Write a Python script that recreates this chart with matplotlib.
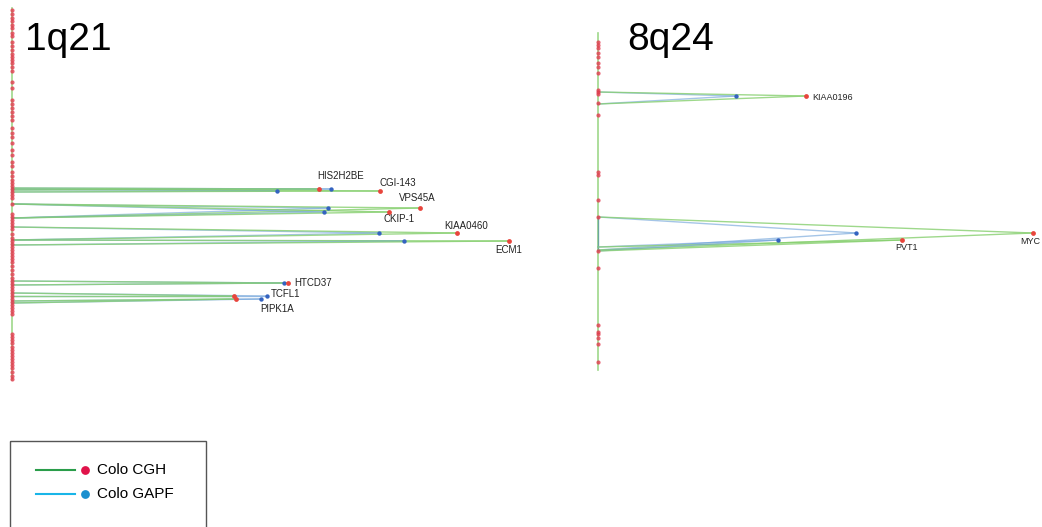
import matplotlib.pyplot as plt
from matplotlib.patches import Rectangle

plt.rcParams['font.family'] = ['Liberation Sans', 'DejaVu Sans']

# panel names and where their chromosome axis sits (pixel-like units)
panels = ["1q21", "8q24"]
axis_x = [12, 598]
axis_span = [(8, 380), (33, 370)]

# probe positions along each axis
probes_1q21 = [10, 14, 18, 21, 25, 28, 33, 36, 42, 46, 50, 54, 57, 60, 63, 67, 71,
               82, 88, 100, 104, 108, 112, 116, 120, 128, 133, 137, 143, 150, 155,
               162, 166, 172, 176, 180, 183, 186, 189, 192, 195, 198, 204, 214, 217,
               220, 223, 226, 229, 234, 238, 241, 244, 247, 250, 253, 256, 259, 262,
               266, 270, 274, 278, 281, 284, 287, 290, 293, 296, 299, 302, 305, 308,
               311, 314, 334, 337, 340, 343, 347, 350, 353, 356, 359, 362, 365, 368,
               372, 376, 379]
probes_8q24 = [42, 45, 48, 53, 57, 63, 67, 73, 90, 92, 94, 103, 115, 172, 175,
               200, 217, 251, 268, 325, 332, 334, 338, 344, 362]

# genes: name, panel, y position, axis anchors, CGH distance, GAPF distance
genes = ["HIS2H2BE", "CGI-143", "VPS45A", "CKIP-1", "KIAA0460", "ECM1",
         "HTCD37", "TCFL1", "PIPK1A", "KIAA0196", "MYC", "PVT1"]
gene_panel = [0, 0, 0, 0, 0, 0, 0, 0, 0, 1, 1, 1]
gene_y = [189, 191, 208, 212, 233, 241, 283, 296, 299, 96, 233, 240]
anchor_top = [188, 189, 204, 204, 227, 240, 281, 293, 301, 92, 217, 247]
anchor_bot = [190, 192, 218, 218, 240, 245, 285, 296, 303, 104, 250, 251]
cgh_x = [319, 380, 420, 389, 457, 509, 288, 234, 236, 806, 1033, 902]
gapf_x = [331, 277, 328, 324, 379, 404, 284, 267, 261, 736, 856, 778]

# label placement (left edge, vertical centre)
label_pos = [(317, 176), (380, 183), (399, 198), (383, 219), (444, 226), (495, 250),
             (294, 283), (271, 294), (260, 309), (812, 98), (1020, 242), (895, 248)]

fig = plt.figure(figsize=(10.42, 5.27), dpi=100)
ax = fig.add_axes([0, 0, 1, 1])
ax.set_xlim(0, 1042)
ax.set_ylim(527, 0)
ax.axis("off")

green_line = "#86cf6e"
blue_line = "#6a9fd8"
red_dot = "#e8453c"
blue_dot = "#3463c0"

# chromosome axes with probes
for i, probes in enumerate([probes_1q21, probes_8q24]):
    x0 = axis_x[i]
    y0, y1 = axis_span[i]
    ax.plot([x0, x0], [y0, y1], color="#9ed88a", lw=1.2, zorder=1)
    ax.scatter([x0] * len(probes), probes, s=9, marker="o", color="#e33a4f",
               alpha=0.8, lw=0, zorder=3)

# short blue segment between the MYC anchors
ax.plot([axis_x[1], axis_x[1]], [anchor_top[10], anchor_bot[10]], color="#4f8fa0",
        lw=1, alpha=0.7, zorder=2)

# gene triangles
for i, g in enumerate(genes):
    x0 = axis_x[gene_panel[i]]
    y = gene_y[i]
    for a in (anchor_top[i], anchor_bot[i]):
        ax.plot([x0, gapf_x[i]], [a, y], color=blue_line, lw=1, alpha=0.6, zorder=2)
        ax.plot([x0, cgh_x[i]], [a, y], color=green_line, lw=1, alpha=0.8, zorder=2)
    ax.scatter([gapf_x[i]], [y], s=10, color=blue_dot, lw=0, zorder=4)
    ax.scatter([cgh_x[i]], [y], s=12, color=red_dot, lw=0, zorder=4)
    lx, ly = label_pos[i]
    fs = 7 if gene_panel[i] == 0 else 6.5
    ax.text(lx, ly, g, fontsize=fs, ha="left", va="center", color="#222222")

# panel titles
ax.text(25, 40, panels[0], fontsize=28, ha="left", va="center")
ax.text(627, 40, panels[1], fontsize=28, ha="left", va="center")

# legend box
ax.add_patch(Rectangle((10, 441), 196, 100, fill=False, edgecolor="#555555", lw=1))
ax.plot([36, 75], [470, 470], color="#2a9d4a", lw=1.5)
ax.scatter([85], [470], s=40, color="#e0134a", lw=0)
ax.text(97, 470, "Colo CGH", fontsize=11, va="center")
ax.plot([36, 75], [494, 494], color="#19b5e8", lw=1.5)
ax.scatter([85], [494], s=40, color="#1a8fcf", lw=0)
ax.text(97, 494, "Colo GAPF", fontsize=11, va="center")

fig.savefig("out.png", dpi=100)
